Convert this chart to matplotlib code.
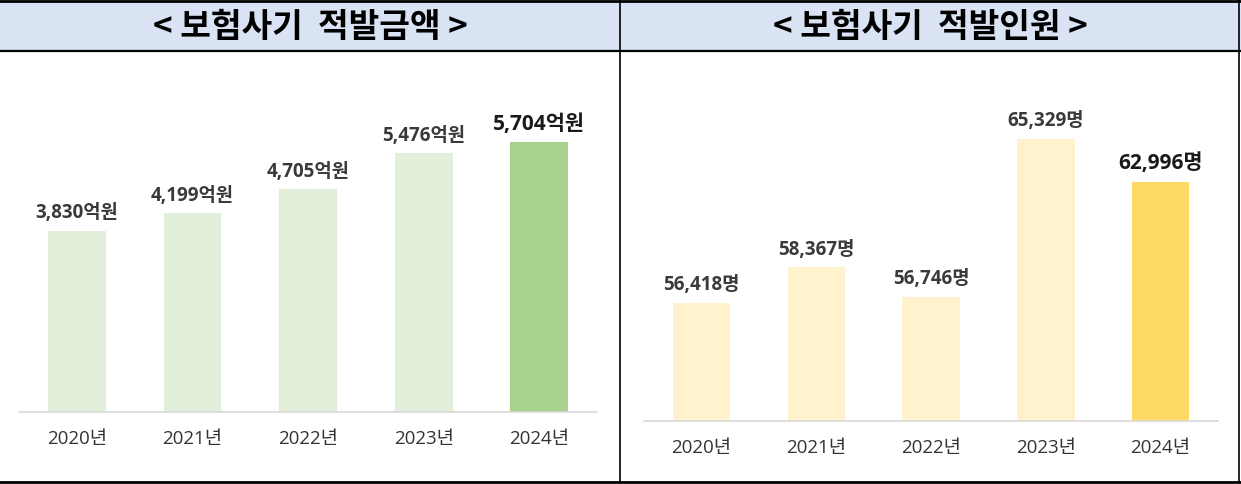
import matplotlib.pyplot as plt
from matplotlib.patches import Rectangle
from matplotlib.lines import Line2D

plt.rcParams['font.family'] = ['Noto Sans CJK KR', 'DejaVu Sans']
NUM_FONT = ['Open Sans', 'Noto Sans CJK KR', 'DejaVu Sans']

W, H = 1241, 485

years = ["2020년", "2021년", "2022년", "2023년", "2024년"]
amount = [3830, 4199, 4705, 5476, 5704]          # 억원
people = [56418, 58367, 56746, 65329, 62996]     # 명
titles = ["< 보험사기  적발금액 >", "< 보험사기  적발인원 >"]


def px(x0, y0, x1, y1):
    # pixel box (top-left origin) -> figure fraction rect
    return [x0 / W, 1 - y1 / H, (x1 - x0) / W, (y1 - y0) / H]


fig = plt.figure(figsize=(W / 100, H / 100), dpi=100)

# header band and table borders
fig.patches.append(Rectangle((0, 1 - 52 / H), 1, 50 / H, transform=fig.transFigure,
                             facecolor="#dae3f3", edgecolor="none", zorder=0))
for (x0, y0, x1, y1, lw) in [(0, 2, W, 2, 2.0), (0, 52, W, 52, 1.6),
                             (0, 483, W, 483, 2.0), (620, 2, 620, 483, 1.2),
                             (1239, 2, 1239, 483, 1.2)]:
    fig.add_artist(Line2D([x0 / W, x1 / W], [1 - y0 / H, 1 - y1 / H],
                          transform=fig.transFigure, color="black", lw=lw))
for cx, t in zip([310, 930], titles):
    fig.text(cx / W, 1 - 28 / H, t, ha="center", va="center",
             fontsize=24, fontweight="bold", color="black")


def draw(ax, vals, unit, ymin, top, light, dark):
    x = range(len(vals))
    colors = [light] * (len(vals) - 1) + [dark]
    ax.bar(x, [v - ymin for v in vals], bottom=ymin, width=0.5, color=colors)
    ax.set_xlim(-0.5, 4.5)
    ax.set_ylim(ymin, top)
    for s in ["top", "left", "right"]:
        ax.spines[s].set_visible(False)
    ax.spines["bottom"].set_color("#d9d9d9")
    ax.spines["bottom"].set_linewidth(1.2)
    ax.set_yticks([])
    ax.set_xticks(list(x), years)
    for lab in ax.get_xticklabels():
        lab.set_family(NUM_FONT)
        lab.set_fontsize(13.5)
        lab.set_color("#333333")
    ax.tick_params(axis="x", length=0, pad=12)
    for i, v in enumerate(vals):
        last = i == len(vals) - 1
        ax.annotate(f"{v:,}{unit}", (i, v), xytext=(0, 6), textcoords="offset points",
                    ha="center", va="bottom", fontweight="bold", family=NUM_FONT,
                    fontsize=15 if last else 13.5,
                    color="#1a1a1a" if last else "#3a3a3a")


ax1 = fig.add_axes(px(19, 70, 597, 413))
draw(ax1, amount, "억원", 0, 343 * 21.13, "#e2efda", "#a9d18e")

ax2 = fig.add_axes(px(644, 88, 1218, 422))
draw(ax2, people, "명", 50000, 50000 + 334 * 54.3, "#fff2cc", "#ffd966")

fig.savefig("out.png", dpi=100)
